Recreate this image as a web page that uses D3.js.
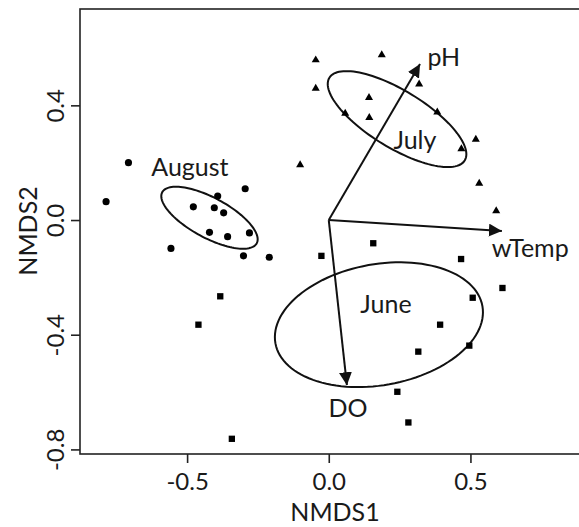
<!DOCTYPE html>
<html>
<head>
<meta charset="utf-8">
<script src="https://cdn.jsdelivr.net/npm/d3@7"></script>
<style>
  body { margin: 0; background: #fff; }
  svg text { font-family: Lato, "Open Sans", sans-serif; fill: #1a1a1a; }
</style>
</head>
<body>
<svg id="chart" width="579" height="527"></svg>
<script>
// site scores by month [NMDS1, NMDS2]
const august = [
  [-0.707, 0.200], [-0.786, 0.064], [-0.478, 0.046], [-0.404, 0.043],
  [-0.371, 0.025], [-0.392, 0.084], [-0.295, 0.109], [-0.421, -0.043],
  [-0.357, -0.058], [-0.280, -0.045], [-0.557, -0.099], [-0.301, -0.125],
  [-0.210, -0.130]
]
const july = [
  [-0.046, 0.558], [-0.046, 0.459], [-0.101, 0.192], [0.187, 0.576],
  [0.319, 0.474], [0.142, 0.427], [0.058, 0.372], [0.143, 0.357],
  [0.383, 0.376], [0.519, 0.281], [0.468, 0.248], [0.531, 0.128],
  [0.591, 0.032]
]
const june = [
  [-0.026, -0.125], [-0.383, -0.266], [-0.460, -0.365], [-0.342, -0.763],
  [0.157, -0.081], [0.467, -0.136], [0.613, -0.237], [0.508, -0.271],
  [0.393, -0.365], [0.316, -0.459], [0.496, -0.438], [0.242, -0.599],
  [0.281, -0.706]
]

// environmental vectors (arrow tips) and where their labels sit
const vectorNames = ["pH", "wTemp", "DO"]
const vectorTips = [[0.322, 0.544], [0.611, -0.038], [0.064, -0.576]]
const vectorLabelPos = [[0.406, 0.537], [0.711, -0.128], [0.068, -0.686]]

// ellipses: centre x, centre y, semi-axis a, semi-axis b, angle (deg)
const groupNames = ["August", "July", "June"]
const ellipses = [
  [-0.421, 0.008, 0.189, 0.070, -28],
  [0.241, 0.352, 0.279, 0.100, -31],
  [0.177, -0.365, 0.371, 0.211, 10]
]
const groupLabelPos = [[-0.490, 0.153], [0.304, 0.248], [0.202, -0.323]]

const xTicks = [-0.5, 0.0, 0.5]
const yTicks = [-0.8, -0.4, 0.0, 0.4]

const svg = d3.select("#chart")

const x = d3.scaleLinear().domain([-0.878, 0.922]).range([80, 590])
const y = d3.scaleLinear().domain([-0.816, 0.736]).range([454, 9])

// R prints a plain hyphen for the minus sign
const fmt = (v) => d3.format(".1f")(v).replace("\u2212", "-")

// plot box
svg.append("rect")
  .attr("x", x.range()[0])
  .attr("y", y.range()[1])
  .attr("width", x.range()[1] - x.range()[0])
  .attr("height", y.range()[0] - y.range()[1])
  .attr("fill", "none")
  .attr("stroke", "#222")
  .attr("stroke-width", 1.6)

// x axis
const gx = svg.append("g")
  .attr("transform", "translate(0," + y.range()[0] + ")")
  .call(d3.axisBottom(x).tickValues(xTicks).tickFormat(fmt).tickSize(9))
gx.select(".domain").remove()
gx.selectAll(".tick line").attr("stroke", "#222").attr("stroke-width", 1.6)
gx.selectAll(".tick text")
  .attr("y", 36).attr("dy", null)
  .style("font-size", "24px")

// y axis, labels turned like R's default
const gy = svg.append("g")
  .attr("transform", "translate(" + x.range()[0] + ",0)")
  .call(d3.axisLeft(y).tickValues(yTicks).tickFormat(fmt).tickSize(9))
gy.select(".domain").remove()
gy.selectAll(".tick line").attr("stroke", "#222").attr("stroke-width", 1.6)
gy.selectAll(".tick text")
  .attr("transform", "rotate(-90)")
  .attr("x", 0).attr("y", -16).attr("dy", null)
  .attr("text-anchor", "middle")
  .style("font-size", "24px")

// axis titles
svg.append("text")
  .attr("x", 335).attr("y", 521)
  .attr("text-anchor", "middle")
  .style("font-size", "25px")
  .text("NMDS1")
svg.append("text")
  .attr("transform", "translate(37,231) rotate(-90)")
  .attr("text-anchor", "middle")
  .style("font-size", "25px")
  .text("NMDS2")

// ellipses
const ellipsePath = (e) => {
  const [cx, cy, a, b, deg] = e
  const t = deg * Math.PI / 180
  const pts = d3.range(0, 2 * Math.PI, Math.PI / 60).map(u => [
    cx + a * Math.cos(u) * Math.cos(t) - b * Math.sin(u) * Math.sin(t),
    cy + a * Math.cos(u) * Math.sin(t) + b * Math.sin(u) * Math.cos(t)
  ])
  return d3.line().x(d => x(d[0])).y(d => y(d[1])).curve(d3.curveLinearClosed)(pts)
}
svg.selectAll(".ell")
  .data(ellipses)
  .enter().append("path")
    .attr("class", "ell")
    .attr("d", ellipsePath)
    .attr("fill", "none")
    .attr("stroke", "#111")
    .attr("stroke-width", 2)

// points
const drawPoints = (data, type, size) => {
  svg.append("g").selectAll("path")
    .data(data)
    .enter().append("path")
      .attr("transform", d => "translate(" + x(d[0]) + "," + y(d[1]) + ")")
      .attr("d", d3.symbol().type(type).size(size))
      .attr("fill", "#000")
}
drawPoints(august, d3.symbolCircle, 40)
drawPoints(july, d3.symbolTriangle, 28)
drawPoints(june, d3.symbolSquare, 40)

// arrows
svg.append("defs").append("marker")
    .attr("id", "head")
    .attr("viewBox", "0 0 10 10")
    .attr("refX", 10).attr("refY", 5)
    .attr("markerWidth", 13).attr("markerHeight", 13)
    .attr("markerUnits", "userSpaceOnUse")
    .attr("orient", "auto")
  .append("path")
    .attr("d", "M0,0 L10,5 L0,10 z")
    .attr("fill", "#111")

svg.selectAll(".vec")
  .data(vectorTips)
  .enter().append("line")
    .attr("class", "vec")
    .attr("x1", x(0)).attr("y1", y(0))
    .attr("x2", d => x(d[0])).attr("y2", d => y(d[1]))
    .attr("stroke", "#111")
    .attr("stroke-width", 2)
    .attr("marker-end", "url(#head)")

svg.selectAll(".vlab")
  .data(vectorNames)
  .enter().append("text")
    .attr("class", "vlab")
    .attr("x", (d, i) => x(vectorLabelPos[i][0]))
    .attr("y", (d, i) => y(vectorLabelPos[i][1]))
    .attr("text-anchor", "middle")
    .style("font-size", "25px")
    .text(d => d)

svg.selectAll(".glab")
  .data(groupNames)
  .enter().append("text")
    .attr("class", "glab")
    .attr("x", (d, i) => x(groupLabelPos[i][0]))
    .attr("y", (d, i) => y(groupLabelPos[i][1]))
    .attr("text-anchor", "middle")
    .style("font-size", "25px")
    .text(d => d)
</script>
</body>
</html>
